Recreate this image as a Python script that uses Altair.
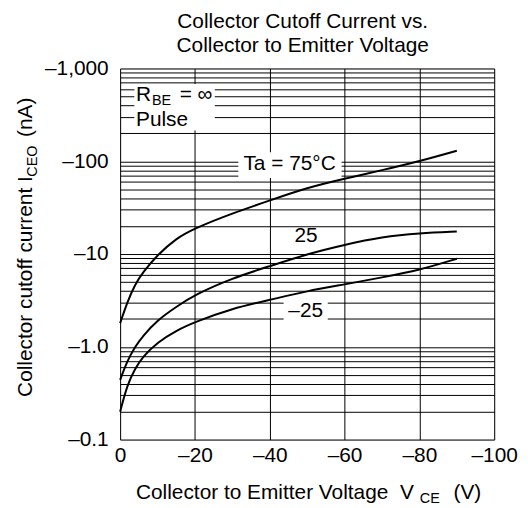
import altair as alt
import pandas as pd

# ---- data (magnitudes; the axis shows them negative) ----
vce = [0, 2, 4, 6, 10, 15, 20, 30, 40, 50, 60, 70, 80, 90]
icEO_75 = [1.8, 3.1, 4.7, 6.3, 9.8, 14.8, 19.0, 27.5, 37.8, 52, 65, 80, 100, 130]
icEO_25 = [0.44, 0.72, 1.0, 1.3, 1.95, 2.7, 3.65, 5.5, 7.4, 10.0, 12.6, 15.3, 16.8, 17.5]
icEO_m25 = [0.2, 0.4, 0.58, 0.78, 1.12, 1.5, 1.85, 2.6, 3.2, 4.0, 4.7, 5.6, 6.7, 8.9]
series_names = ["75", "25", "-25"]

x_grid = [0, 10, 20, 30, 40, 50, 60, 70, 80, 90, 100]
y_grid = [m * 10 ** e for e in (-1, 0, 1, 2) for m in range(1, 10)] + [1000]

# annotation texts (label, V, I)
ann_text = ["Ta = 75°C", "25", "–25"]
ann_v = [45.3, 49.7, 49.6]
ann_i = [80, 13.5, 2.1]
# white boxes behind annotations (v1, v2, i1, i2)
box_v1 = [3.8, 31.6, 45.2, 43.7]
box_v2 = [25.3, 59.2, 53.9, 55.5]
box_i1 = [214, 66, 10.5, 1.75]
box_i2 = [680, 125, 19, 3.3]

FONT = "Liberation Sans"
FS = 21
SUB = 14.5
NB = "\u00a0"
W, H = 377, 374

rows = []
for name, vals in zip(series_names, [icEO_75, icEO_25, icEO_m25]):
    for v, i in zip(vce, vals):
        rows.append({"V": v, "I": i, "T": name})
df = pd.DataFrame(rows)

xs = alt.Scale(domain=[0, 100], nice=False, zero=False)
ys = alt.Scale(type="log", domain=[0.1, 1000], nice=False)

x_axis = alt.Axis(
    values=x_grid, grid=True, gridColor="#000", gridOpacity=1, gridWidth=1,
    ticks=False, domain=False, labelFont=FONT, labelFontSize=FS, labelColor="#000",
    labelPadding=5, title=None,
    labelExpr="datum.value % 20 == 0 ? (datum.value == 0 ? '0' : '–' + datum.value) : ''",
    labelFlush=False,
)
y_axis = alt.Axis(
    values=y_grid, grid=True, gridColor="#000", gridOpacity=1, gridWidth=1,
    ticks=False, domain=False, labelFont=FONT, labelFontSize=FS, labelColor="#000",
    labelPadding=12, title=None,
    labelExpr="datum.value == 1000 ? '–1,000' : datum.value == 100 ? '–100' : datum.value == 10 ? '–10' : datum.value == 1 ? '–1.0' : (datum.value > 0.099 && datum.value < 0.101) ? '–0.1' : ''",
    labelFlush=False,
)

lines = alt.Chart(df).mark_line(color="#000", strokeWidth=2, interpolate="basis").encode(
    x=alt.X("V:Q", scale=xs, axis=x_axis),
    y=alt.Y("I:Q", scale=ys, axis=y_axis),
    detail="T:N",
)

boxes = alt.Chart(pd.DataFrame({"v1": box_v1, "v2": box_v2, "i1": box_i1, "i2": box_i2})).mark_rect(
    color="white"
).encode(
    x=alt.X("v1:Q", scale=xs), x2="v2:Q",
    y=alt.Y("i1:Q", scale=ys), y2="i2:Q",
)

anns = alt.Chart(pd.DataFrame({"t": ann_text, "V": ann_v, "I": ann_i})).mark_text(
    font=FONT, fontSize=FS, color="#000", align="center", baseline="alphabetic"
).encode(
    x=alt.X("V:Q", scale=xs), y=alt.Y("I:Q", scale=ys), text="t:N"
)

def txt(t, x, y, size=FS, align="left", angle=0):
    kw = dict(font=FONT, fontSize=size, color="#000", align=align, baseline="alphabetic")
    if angle:
        kw["angle"] = angle
    return alt.Chart(pd.DataFrame({"a": [0]})).mark_text(**kw).encode(
        x=alt.value(x), y=alt.value(y), text=alt.value(t)
    )

# RBE / Pulse legend text (pixel layout inside the plot)
legend_txt = [
    txt("R", 16, 33),
    txt("BE", 32, 37, size=SUB),
    txt("= ∞", 60, 33),
    txt("Pulse", 16, 58),
]

title_txt = [
    txt("Collector Cutoff Current vs.", 184, -41, align="center"),
    txt("Collector to Emitter Voltage", 184, -17, align="center"),
]

xtitle = [
    txt("Collector to Emitter Voltage" + NB + NB + "V", 296, 434, align="right"),
    txt("CE", 302, 438, size=SUB),
    txt("(V)", 336, 434),
]

ytitle = [
    txt("Collector cutoff current I", -89, 331, angle=270),
    txt("CEO", -84, 109, size=SUB, angle=270),
    txt("(nA)", -89, 69, angle=270),
]

chart = alt.layer(
    boxes, lines, anns, *legend_txt, *title_txt, *xtitle, *ytitle
).properties(
    width=W, height=H,
    autosize=alt.AutoSizeParams(type="none"),
    padding={"left": 113, "top": 59, "right": 26, "bottom": 67},
).configure_view(stroke="#000", strokeWidth=1.2).configure(background="white")

chart.save("out.html", embed_options={"renderer": "svg", "actions": False})
